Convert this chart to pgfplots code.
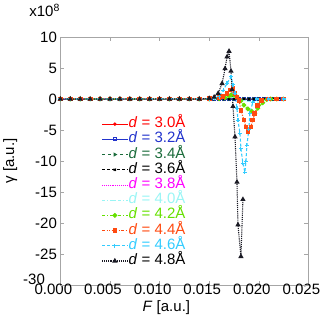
\documentclass[border=0pt]{standalone}
\usepackage{pgfplots}
\pgfplotsset{compat=1.18}
\usepackage{pgfplotstable}
\usepackage{fontspec}
\setmainfont{Liberation Sans}

\definecolor{c30}{HTML}{FF0000}
\definecolor{c32}{HTML}{2233CC}
\definecolor{c34}{HTML}{1A6B3A}
\definecolor{c38}{HTML}{FF00FF}
\definecolor{c40}{HTML}{99F5F5}
\definecolor{c42}{HTML}{66E000}
\definecolor{c44}{HTML}{FF4A10}
\definecolor{c46}{HTML}{33CCFF}
\definecolor{c48}{HTML}{1A1A24}

% flat series (d = 3.0 ... 4.0)
\pgfplotstableread{
F d30 d32 d34 d36 d38 d40
0 0 0 0 0 0 0
0.001 0 0 0 0 0 0
0.002 0 0 0 0 0 0
0.003 0 0 0 0 0 0
0.004 0 0 0 0 0 0
0.005 0 0 0 0 0 0
0.006 0 0 0 0 0 0
0.007 0 0 0 0 0 0
0.008 0 0 0 0 0 0
0.009 0 0 0 0 0 0
0.010 0 0 0 0 0 0
0.011 0 0 0 0 0 0
0.012 0 0 0 0 0 0
0.013 0 0 0 0 0 0
0.014 0 0 0 0 0 0
0.015 0 0 0 0 0 0
0.0155 0 0 0 0 0 0
0.016 0 0 0 0 0 0.05
0.0165 0 0 0 0 0 0.1
0.017 0 0 0 0 0.02 0.2
0.0175 0 0 0 0.02 0.05 0.25
0.018 0 0 0 0 0.02 0.1
0.0185 0 0 0 0 -0.02 -0.2
0.019 0 0 0 -0.02 -0.05 -0.4
0.0195 0 0 0 0 -0.05 -0.5
0.020 0 0 0 0 -0.03 -0.5
0.0205 0 0 0 0 0 -0.3
0.021 0 0 0 0 0 -0.1
0.0215 0 0 0 0 0 0
0.022 0 0 0 0 0 0
0.0225 0 0 0 0 0 0
}\flat

\begin{document}
\begin{tikzpicture}
\begin{axis}[
  scale only axis,
  width=248pt, height=248pt,
  xmin=0, xmax=0.025,
  ymin=-30, ymax=10,
  xtick={0,0.005,...,0.025},
  ytick={-25,-20,...,10},
  extra y ticks={-30},
  extra y tick style={yticklabel style={xshift=-12pt, yshift=6pt}},
  scaled x ticks=false,
  xticklabel style={xshift=-7pt, yshift=5pt,
    /pgf/number format/fixed,
    /pgf/number format/fixed zerofill,
    /pgf/number format/precision=3},
  /pgf/number format/assume math mode=true,
  tick label style={font=\fontsize{15}{15}\selectfont},
  tick align=inside,
  major tick length=4pt,
  axis line style={gray!70},
  tick style={gray!70},
  xlabel={\textit{F} [a.u.]},
  ylabel={γ [a.u.]},
  label style={font=\fontsize{15}{15}\selectfont},
  xlabel style={xshift=-18pt, yshift=0pt},
  ylabel style={yshift=-1pt},
  clip=false,
  legend cell align=left,
  legend style={draw=none, fill=none, inner sep=0pt,
    at={(rel axis cs:0.165,0.68)}, anchor=north west,
    font=\fontsize{15}{15}\selectfont,
    nodes={inner sep=0.5pt, text height=10.7pt, text depth=3.5pt}},
  legend image code/.code={%
    \draw[mark repeat=2,mark phase=2,#1] plot coordinates {(0cm,0cm) (0.45cm,0cm) (0.9cm,0cm)};},
]
\addplot[c30, line width=0.9pt, mark=*, mark size=1.3pt] table[x=F,y=d30] {\flat};
\addlegendentry{\textcolor{c30}{\textit{d} = 3.0Å}}
\addplot[c32, line width=0.9pt, mark=square, mark size=1.5pt] table[x=F,y=d32] {\flat};
\addlegendentry{\textcolor{c32}{\textit{d} = 3.2Å}}
\addplot[c34, line width=0.9pt, dashed, mark=triangle, mark options={solid,rotate=-90}, mark size=1.6pt] table[x=F,y=d34] {\flat};
\addlegendentry{\textcolor{c34}{\textit{d} = 3.4Å}}
\addplot[black, line width=0.9pt, densely dashed, mark=x, mark options={solid}, mark size=1.6pt] table[x=F,y=d36] {\flat};
\addlegendentry{\textit{d} = 3.6Å}
\addplot[c38, line width=0.9pt, densely dotted] table[x=F,y=d38] {\flat};
\addlegendentry{\textcolor{c38}{\textit{d} = 3.8Å}}
\addplot[c40, line width=0.9pt, dashdotted, mark=-, mark options={solid}, mark size=1.6pt] table[x=F,y=d40] {\flat};
\addlegendentry{\textcolor{c40}{\textit{d} = 4.0Å}}
\addplot[c42, line width=1.1pt, dashdotted, mark=*, mark options={solid}, mark size=1.8pt] coordinates {
 (0,0) (0.001,0) (0.002,0) (0.003,0) (0.004,0) (0.005,0) (0.006,0) (0.007,0)
 (0.008,0) (0.009,0) (0.010,0) (0.011,0) (0.012,0) (0.013,0) (0.014,0)
 (0.015,0) (0.016,0.05) (0.0166,0.2) (0.0170,0.5) (0.0172,0.65) (0.0175,0.6)
 (0.0178,0.35) (0.0182,-0.3) (0.0185,-1.0) (0.0189,-1.6) (0.0193,-2.0)
 (0.0196,-2.3) (0.0199,-1.5) (0.0204,-0.6) (0.0208,-0.1) (0.0212,0)
 (0.0218,0) (0.0225,0)
};
\addlegendentry{\textcolor{c42}{\textit{d} = 4.2Å}}
\addplot[c44, line width=1.1pt, dash pattern=on 3pt off 1.5pt on 1pt off 1.5pt on 1pt off 1.5pt, mark=square*, mark options={solid}, mark size=1.8pt] coordinates {
 (0,0) (0.001,0) (0.002,0) (0.003,0) (0.004,0) (0.005,0) (0.006,0) (0.007,0)
 (0.008,0) (0.009,0) (0.010,0) (0.011,0) (0.012,0) (0.013,0) (0.014,0)
 (0.015,0.05) (0.016,0.2) (0.0164,0.4) (0.0168,0.9) (0.0171,1.45) (0.0174,1.7)
 (0.0176,0.9) (0.0178,0.3) (0.0180,-0.2) (0.0182,-1.8) (0.0185,-3.4)
 (0.0187,-4.5) (0.0189,-5.3) (0.0192,-4.5) (0.0194,-3.4) (0.0196,-2.3)
 (0.0199,-1.0) (0.0203,-0.2) (0.0210,0) (0.0218,0) (0.0225,0)
};
\addlegendentry{\textcolor{c44}{\textit{d} = 4.4Å}}
\addplot[c46, line width=1.1pt, densely dashed, mark=+, mark options={solid}, mark size=2pt] coordinates {
 (0,0) (0.001,0) (0.002,0) (0.003,0) (0.004,0) (0.005,0) (0.006,0) (0.007,0)
 (0.008,0) (0.009,0) (0.010,0) (0.011,0) (0.012,0) (0.013,0) (0.014,0)
 (0.015,0.05) (0.0155,0.1) (0.016,0.4) (0.0164,1.4) (0.0168,2.5) (0.0172,3.6)
 (0.0174,2.3) (0.0176,0.9) (0.0178,-1.5) (0.0179,-3.4) (0.0181,-5.5)
 (0.0182,-8.0) (0.0184,-10.4) (0.0186,-11.8) (0.0187,-10.1) (0.0188,-7.5)
 (0.0190,-4.9) (0.0191,-2.3) (0.0194,-0.5) (0.0198,0) (0.0210,0) (0.0225,0)
};
\addlegendentry{\textcolor{c46}{\textit{d} = 4.6Å}}
\addplot[c48, line width=1.1pt, densely dotted, mark=triangle*, mark options={solid}, mark size=2pt] coordinates {
 (0,0) (0.001,0) (0.002,0) (0.003,0) (0.004,0) (0.005,0) (0.006,0) (0.007,0)
 (0.008,0) (0.009,0) (0.010,0) (0.011,0) (0.012,0) (0.013,0) (0.014,0)
 (0.0150,0.1) (0.0155,0.3) (0.0159,0.9) (0.0163,2.5) (0.0166,4.9) (0.0168,6.8)
 (0.0170,7.7) (0.0172,4.5) (0.0173,1.5) (0.0174,-1.2) (0.0176,-6.1)
 (0.0178,-13.4) (0.0179,-20.3) (0.0182,-25.4) (0.0184,-16.2)
};
\addlegendentry{\textit{d} = 4.8Å}
\node[anchor=base east, font=\fontsize{15}{15}\selectfont] at (rel axis cs:0,1) [xshift=3pt, yshift=20pt] {x10\textsuperscript{8}};
% page margins as in the reference
\path (rel axis cs:0,0) ++(-55pt,-47pt);
\path (rel axis cs:1,1) ++(22pt,37pt);
\end{axis}
\end{tikzpicture}
\end{document}
